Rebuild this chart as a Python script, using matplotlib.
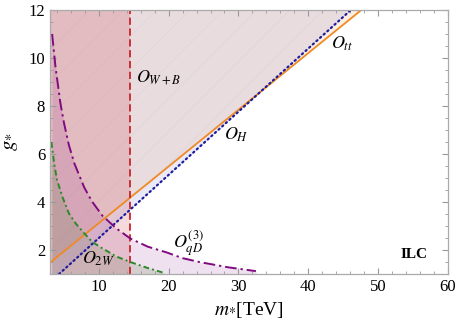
import numpy as np
import matplotlib
matplotlib.use("Agg")
import matplotlib.pyplot as plt
from matplotlib.ticker import MultipleLocator

plt.rcParams['font.family'] = ['Liberation Serif', 'DejaVu Serif']
plt.rcParams['mathtext.fontset'] = 'stix'
plt.rcParams['hatch.linewidth'] = 0.5

# ---- data ----
# O_tt and O_H : straight bounds (m*, g*)
m_tt = [3.0, 47.6]
g_tt = [1.47, 12.0]
m_H = [4.3, 46.1]
g_H = [1.0, 12.0]
# O_W+B : vertical bound
m_WB = 14.5
# O_qD^(3)
m_qD = [3.3, 3.8, 4.5, 5.0, 5.7, 6.5, 7.9, 9.0, 10.5, 12.5, 14.5, 17.0,
        19.7, 22.0, 24.4, 28.5, 32.5]
g_qD = [11.0, 9.6, 8.1, 7.3, 6.38, 5.6, 4.61, 4.03, 3.43, 2.9, 2.48, 2.14,
        1.9, 1.66, 1.5, 1.28, 1.12]
# O_2W
m_2W = [3.2, 3.6, 4.0, 4.8, 5.7, 6.7, 7.9, 9.0, 10.5, 12.5, 14.5, 17.0, 19.3]
g_2W = [6.5, 5.6, 4.92, 4.2, 3.53, 3.1, 2.7, 2.35, 2.07, 1.73, 1.5, 1.25, 1.05]

xmin, xmax, ymin, ymax = 3.0, 60.0, 1.0, 12.0

fig = plt.figure(figsize=(4.57, 3.28), dpi=100)
ax = fig.add_axes([0.1094, 0.1646, 0.8706, 0.8049])

c_tt = '#f08a24'
c_H = '#1c1c9c'
c_WB = '#c8232c'
c_qD = '#800a80'
c_2W = '#2a8a2a'

# shaded regions
xx = np.linspace(xmin, xmax, 400)
y_tt = g_tt[0] + (xx - m_tt[0]) * (g_tt[1] - g_tt[0]) / (m_tt[1] - m_tt[0])
ax.fill_between(xx, np.clip(y_tt, ymin, ymax), ymax, where=y_tt <= ymax,
                color=c_tt, alpha=0.13, lw=0)
y_H = g_H[0] + (xx - m_H[0]) * (g_H[1] - g_H[0]) / (m_H[1] - m_H[0])
ax.fill_between(xx, np.clip(y_H, ymin, ymax), ymax, where=y_H <= ymax,
                color='#6a6ad0', alpha=0.14, lw=0)
ax.fill_between(xx, np.clip(y_H, ymin, ymax), ymax, where=y_H <= ymax,
                facecolor='none', lw=0, hatch='/',
                edgecolor=(0.45, 0.45, 0.45, 0.07))
ax.fill_between([xmin, m_WB], ymin, ymax, color=c_WB, alpha=0.17, lw=0)
ax.fill_between(m_qD, ymin, g_qD, color=c_qD, alpha=0.12, lw=0)
ax.fill_between(m_2W, ymin, g_2W, color='#5a7a3a', alpha=0.18, lw=0)

# boundary lines
ax.plot(m_tt, g_tt, color=c_tt, lw=1.3)
ax.plot(m_H, g_H, color=c_H, lw=1.6, ls=(0, (0.6, 1.6)), dash_capstyle='round')
ax.plot([m_WB, m_WB], [ymin, ymax], color=c_WB, lw=1.3, ls=(0, (4, 2)))
ax.plot(m_qD, g_qD, color=c_qD, lw=1.4, ls=(0, (6, 2, 1.2, 2)))
ax.plot(m_2W, g_2W, color=c_2W, lw=1.4, ls=(0, (3, 1.6, 1, 1.6)))

# labels
ax.text(15.3, 9.17, r'$O_{W+B}$', fontsize=13, ha='left', va='center')
ax.text(44.9, 10.6, r'$O_{tt}$', fontsize=13, ha='center', va='center')
ax.text(29.7, 6.8, r'$O_{H}$', fontsize=13, ha='center', va='center')
ax.text(22.8, 2.25, r'$O_{qD}^{(3)}$', fontsize=13, ha='center', va='center')
ax.text(9.9, 1.65, r'$O_{2W}$', fontsize=13, ha='center', va='center')
ax.text(55.1, 1.83, 'ILC', fontsize=11, fontweight='bold', ha='center', va='center')

ax.set_xlim(xmin, xmax)
ax.set_ylim(ymin, ymax)
ax.xaxis.set_major_locator(MultipleLocator(10))
ax.xaxis.set_minor_locator(MultipleLocator(2))
ax.yaxis.set_major_locator(MultipleLocator(2))
ax.yaxis.set_minor_locator(MultipleLocator(0.5))
ax.tick_params(which='both', direction='in', top=True, right=True,
               color='#999999', labelsize=12)
ax.tick_params(which='major', length=4, width=0.8)
ax.tick_params(which='minor', length=2.2, width=0.6)
for s in ax.spines.values():
    s.set_color('#aaaaaa')
    s.set_linewidth(0.9)

ax.set_xlabel(r'$m_{*}$[TeV]', fontsize=14, labelpad=4)
ax.set_ylabel(r'$g_{*}$', fontsize=15, labelpad=6)

fig.savefig('out.png', dpi=100)
